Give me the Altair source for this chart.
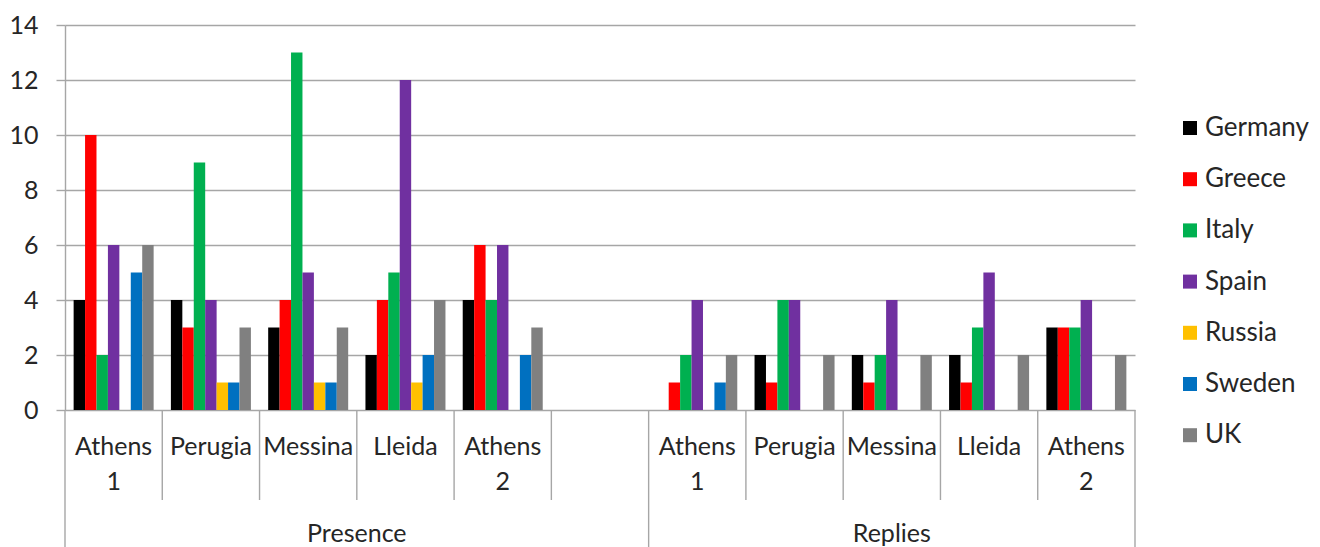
import altair as alt
import pandas as pd

countries = ["Germany", "Greece", "Italy", "Spain", "Russia", "Sweden", "UK"]
colors = ["#000000", "#FF0000", "#00B050", "#7030A0", "#FFC000", "#0070C0", "#808080"]
venues = ["Athens\n1", "Perugia", "Messina", "Lleida", "Athens\n2"]

# counts per venue, in the order of `venues`
presence = {
    "Germany": [4, 4, 3, 2, 4],
    "Greece": [10, 3, 4, 4, 6],
    "Italy": [2, 9, 13, 5, 4],
    "Spain": [6, 4, 5, 12, 6],
    "Russia": [0, 1, 1, 1, 0],
    "Sweden": [5, 1, 1, 2, 2],
    "UK": [6, 3, 3, 4, 3],
}
replies = {
    "Germany": [0, 2, 2, 2, 3],
    "Greece": [1, 1, 1, 1, 3],
    "Italy": [2, 4, 2, 3, 3],
    "Spain": [4, 4, 4, 5, 4],
    "Russia": [0, 0, 0, 0, 0],
    "Sweden": [1, 0, 0, 0, 0],
    "UK": [2, 2, 2, 2, 2],
}

# category slots: five Presence venues, one empty slot, five Replies venues
p_keys = [f"P{i+1}" for i in range(len(venues))]
r_keys = [f"R{i+1}" for i in range(len(venues))]
keys = p_keys + ["gap"] + r_keys

rows = []
for ks, table in ((p_keys, presence), (r_keys, replies)):
    for c in countries:
        for k, v in zip(ks, table[c]):
            rows.append({"key": k, "country": c, "value": v})
bars_df = pd.DataFrame(rows)

labels_df = pd.DataFrame({"key": p_keys + r_keys, "label": venues + venues})
inner_df = pd.DataFrame({"key": p_keys[1:] + ["gap"] + r_keys[1:]})
outer_df = pd.DataFrame({"key": [p_keys[0], r_keys[0]]})
end_df = pd.DataFrame({"key": [r_keys[-1]]})
presence_df = pd.DataFrame({"key": [p_keys[3]], "label": ["Presence"]})
replies_df = pd.DataFrame({"key": [r_keys[2]], "label": ["Replies"]})

FONT = "Lato"
TXT = "#262626"
LINE = "#a6a6a6"
xscale = alt.Scale(domain=keys, paddingInner=0, paddingOuter=0)


def xenc(pos=0.5):
    return alt.X("key:N", scale=xscale, axis=None, bandPosition=pos)


bars = alt.Chart(bars_df).mark_bar().encode(
    x=alt.X("key:N", scale=xscale, axis=None),
    xOffset=alt.XOffset(
        "country:N",
        scale=alt.Scale(domain=countries, paddingInner=0, paddingOuter=0.755),
    ),
    y=alt.Y(
        "value:Q",
        scale=alt.Scale(domain=[0, 14], nice=False),
        axis=alt.Axis(
            values=list(range(0, 15, 2)),
            title=None,
            grid=True,
            gridColor=LINE,
            gridWidth=1.4,
            domainColor=LINE,
            domainWidth=1.4,
            tickColor=LINE,
            tickWidth=1.4,
            tickSize=9,
            labelPadding=18,
            labelFont=FONT,
            labelFontSize=25,
            labelColor=TXT,
        ),
    ),
    color=alt.Color(
        "country:N",
        scale=alt.Scale(domain=countries, range=colors),
        legend=alt.Legend(
            title=None,
            orient="none",
            legendX=1112,
            legendY=90,
            symbolType="square",
            symbolSize=196,
            symbolStrokeWidth=0,
            labelFont=FONT,
            labelFontSize=26,
            labelColor=TXT,
            labelOffset=2,
            rowPadding=25.2,
        ),
    ),
)

inner_rules = alt.Chart(inner_df).mark_rule(color=LINE, strokeWidth=1.4).encode(
    x=xenc(0), y=alt.value(385), y2=alt.value(475)
)
outer_rules = alt.Chart(outer_df).mark_rule(color=LINE, strokeWidth=1.4).encode(
    x=xenc(0), y=alt.value(385), y2=alt.value(522)
)
end_rule = alt.Chart(end_df).mark_rule(color=LINE, strokeWidth=1.4).encode(
    x=xenc(1), y=alt.value(385), y2=alt.value(522)
)

venue_text = alt.Chart(labels_df).mark_text(
    lineBreak="\n", baseline="alphabetic", align="center",
    font=FONT, fontSize=25, color=TXT, lineHeight=35,
).encode(x=xenc(0.5), y=alt.value(430), text="label:N")

presence_text = alt.Chart(presence_df).mark_text(
    baseline="alphabetic", align="center", font=FONT, fontSize=25, color=TXT
).encode(x=xenc(0), y=alt.value(517), text="label:N")

replies_text = alt.Chart(replies_df).mark_text(
    baseline="alphabetic", align="center", font=FONT, fontSize=25, color=TXT
).encode(x=xenc(0.5), y=alt.value(517), text="label:N")

chart = (
    alt.layer(bars, inner_rules, outer_rules, end_rule, venue_text, presence_text, replies_text)
    .properties(
        width=1070,
        height=385,
        padding={"left": 65, "top": 25, "right": 185, "bottom": 137},
        autosize=alt.AutoSizeParams(type="none"),
    )
    .configure_view(strokeWidth=0)
)

chart.save("out.html", embed_options={"renderer": "svg", "actions": False})
